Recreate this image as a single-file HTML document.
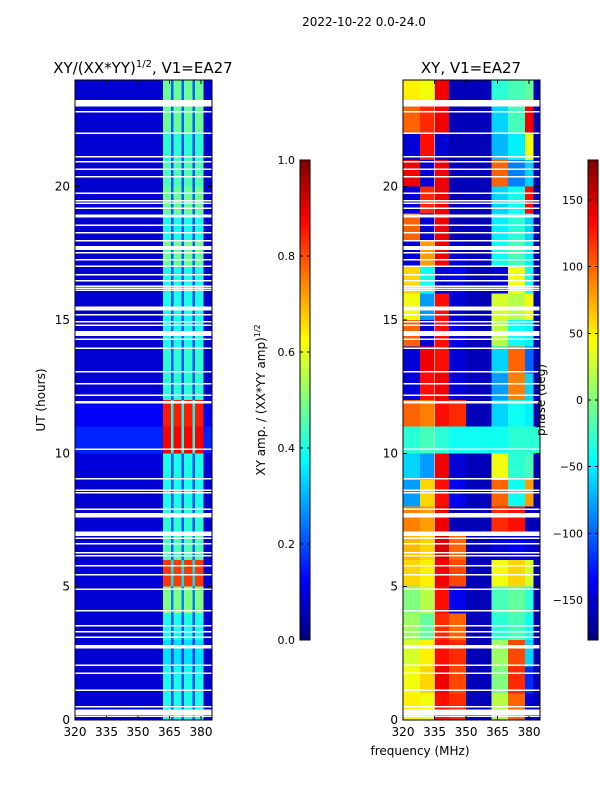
<!DOCTYPE html>
<html><head><meta charset="utf-8">
<style>
body{margin:0;background:#fff;font-family:"Liberation Sans","DejaVu Sans",sans-serif;}
svg text{font-family:"DejaVu Sans","Liberation Sans",sans-serif;}
</style></head>
<body>
<svg id="fig" width="600" height="800" viewBox="0 0 600 800" xmlns="http://www.w3.org/2000/svg" shape-rendering="crispEdges">
<rect width="600" height="800" fill="#fff"/>
<text x="364" y="26" font-size="12" text-anchor="middle">2022-10-22 0.0-24.0</text>
<text x="143" y="73" font-size="15" text-anchor="middle">XY/(XX*YY)<tspan font-size="10" dy="-6">1/2</tspan><tspan dy="6">, V1=EA27</tspan></text>
<text x="471" y="73" font-size="15" text-anchor="middle">XY, V1=EA27</text>
<g id="left"></g>
<g id="right"></g>
<g id="axes"></g>
<text transform="translate(45,400) rotate(-90)" font-size="12" text-anchor="middle">UT (hours)</text>
<text x="420" y="755" font-size="12" text-anchor="middle">frequency (MHz)</text>
<text transform="translate(265,400) rotate(-90)" font-size="12" text-anchor="middle">XY amp. / (XX*YY amp)<tspan font-size="8" dy="-5">1/2</tspan></text>
<text transform="translate(545,400) rotate(-90)" font-size="12" text-anchor="middle">phase (deg)</text>
</svg>
<script>
// ---- data ----
const hours = [0,1,2,3,4,5,6,7,8,9,10,11,12,13,14,15,16,17,18,19,20,21,22,23];
const ampCols = [320,345,361.8,365.7,366.8,370.8,371.9,376,377.1,381.1,385.2];
const ampLow    = [0.08,0.08,0.08,0.08,0.08,0.09,0.08,0.08,0.08,0.09,0.16,0.12,0.08,0.08,0.08,0.08,0.08,0.08,0.08,0.08,0.08,0.08,0.08,0.08];
const ampBright = [0.4,0.4,0.35,0.4,0.5,0.82,0.45,0.42,0.4,0.4,0.88,0.85,0.42,0.42,0.4,0.4,0.4,0.48,0.4,0.48,0.45,0.42,0.48,0.48];
const ampDim    = [0.2,0.2,0.18,0.2,0.25,0.35,0.22,0.2,0.2,0.2,0.4,0.38,0.2,0.2,0.2,0.2,0.2,0.22,0.2,0.22,0.2,0.2,0.22,0.22];
const phaseCols = [320,328,335,342,350,362,370,378,382,385.2];
const phase = [
 [50,40,130,120,-160,20,100,-150,-160],
 [40,60,140,110,-160,0,120,-120,-160],
 [30,50,130,120,-160,10,110,-60,-160],
 [10,-10,120,100,-160,-30,-20,-40,-160],
 [0,20,130,-140,-160,-20,-10,-30,-160],
 [60,50,140,110,-160,40,60,30,-160],
 [70,60,150,100,-160,-150,-140,-150,-160],
 [90,80,140,-160,-160,120,130,-160,-160],
 [-80,60,130,-140,-160,100,-40,80,-160],
 [-60,-80,140,-150,-160,40,-30,-20,-160],
 [-30,-20,-30,-40,-40,-40,-30,-30,-30],
 [100,90,130,120,-160,-60,-40,-50,-160],
 [-150,130,140,-150,-160,-80,90,-60,-160],
 [-150,140,130,-150,-160,-60,100,-100,-160],
 [100,-150,130,-140,-160,20,-40,-50,-160],
 [40,-80,130,-150,-160,30,20,40,-160],
 [60,-40,-150,-140,-160,-150,40,-40,-160],
 [-150,80,140,-150,-160,-40,-20,-50,-160],
 [100,-150,140,-160,-160,-50,-30,-60,-160],
 [-150,120,140,-160,-160,-60,-40,130,-160],
 [140,-150,140,-160,-160,100,-90,-60,-160],
 [-150,130,-150,-160,-160,-70,-50,40,-160],
 [100,120,140,-160,-160,-60,-20,140,-160],
 [50,40,140,-160,-160,-30,-20,-10,-160]
];
const gaps = [[0.12,0.17],[0.19,0.4],[0.48,0.53],[1.1,1.15],[1.73,1.78],[2.04,2.09],[2.69,2.81],[3.08,3.13],[3.29,3.34],[3.51,3.56],[4.08,4.13],[4.88,4.93],[5.42,5.47],[5.77,5.82],[6.13,6.18],[6.25,6.3],[6.58,6.63],[6.79,6.84],[6.9,7.06],[7.6,7.77],[7.88,7.93],[8.5,8.55],[8.6,8.65],[9.02,9.07],[10.13,10.18],[11.87,11.97],[12.15,12.2],[12.58,12.63],[13.04,13.09],[13.92,13.97],[14.25,14.3],[14.4,14.59],[14.79,14.84],[14.91,14.96],[15.17,15.22],[15.35,15.5],[16.1,16.15],[16.18,16.22],[16.25,16.3],[16.45,16.5],[16.67,16.72],[17.0,17.05],[17.23,17.28],[17.5,17.55],[17.62,17.78],[17.95,18.0],[18.25,18.3],[18.54,18.59],[18.86,18.9],[18.92,18.96],[19.17,19.22],[19.35,19.4],[19.45,19.5],[19.73,19.78],[20.35,20.4],[20.63,20.68],[20.91,20.96],[21.1,21.15],[21.98,22.03],[22.78,22.83],[23.0,23.25]];
const ampTicks = [0,0.2,0.4,0.6,0.8,1.0];
const phaseTicks = [-150,-100,-50,0,50,100,150];
const xTicks = [320,335,350,365,380];
const yTicks = [0,5,10,15,20];
// ---- scales ----
const NS="http://www.w3.org/2000/svg";
const Y0=720, PXH=640/24;
const yS = t => Y0 - t*PXH;
const xL = f => 75 + (f-320)*2.1;
const xR = f => 403 + (f-320)*(137/65.2);
function jet(v){v=Math.max(0,Math.min(1,v));
 const r=Math.max(0,Math.min(1,1.5-Math.abs(4*v-3))),g=Math.max(0,Math.min(1,1.5-Math.abs(4*v-2))),b=Math.max(0,Math.min(1,1.5-Math.abs(4*v-1)));
 return `rgb(${Math.round(r*255)},${Math.round(g*255)},${Math.round(b*255)})`;}
function mk(tag,attrs,parent){const e=document.createElementNS(NS,tag);for(const k in attrs)e.setAttribute(k,attrs[k]);parent.appendChild(e);return e;}
const L=document.getElementById('left'),R=document.getElementById('right'),A=document.getElementById('axes');
// left heatmap
hours.forEach((h,i)=>{
 for(let c=0;c<ampCols.length-1;c++){
  let v = c<2 ? ampLow[i] : ((c%2===0)?ampBright[i]:ampDim[i]);
  if(c===9) v=ampLow[i];
  const r=mk('rect',{x:xL(ampCols[c]),y:yS(h+1),width:xL(ampCols[c+1])-xL(ampCols[c]),height:PXH,fill:jet(v)},L);
  
  
 }
});
// right heatmap
hours.forEach((h,i)=>{
 for(let c=0;c<phaseCols.length-1;c++){
  const r=mk('rect',{x:xR(phaseCols[c]),y:yS(h+1),width:xR(phaseCols[c+1])-xR(phaseCols[c]),height:PXH,fill:jet((phase[i][c]+180)/360)},R);
  
  
 }
});
mk('rect',{x:xR(335)-0.5,y:80,width:1,height:640,fill:'#ddd','opacity':0.7},R);
// gaps
gaps.forEach(g=>{
 [[75,137],[403,137]].forEach(([x0,w])=>{
  const r=mk('rect',{x:x0,y:yS(g[1]),width:w,height:Math.max(1.5,(g[1]-g[0])*PXH),fill:'#fff'},A);
  
  
 });
});
// axes frames & ticks
[[75,xL],[403,xR]].forEach(([x0,xs],p)=>{
 const f=mk('rect',{x:x0,y:80,width:137,height:640,fill:'none',stroke:'#000','stroke-width':1},A);
 
 
 xTicks.forEach(t=>{
  mk('line',{x1:xs(t),x2:xs(t),y1:720,y2:716,stroke:'#000'},A);
  mk('line',{x1:xs(t),x2:xs(t),y1:80,y2:84,stroke:'#000'},A);
  const tx=mk('text',{x:xs(t),y:736,'font-size':12,'text-anchor':'middle'},A);tx.textContent=t;
  
  
 });
 yTicks.forEach(t=>{
  mk('line',{x1:x0,x2:x0+4,y1:yS(t),y2:yS(t),stroke:'#000'},A);
  mk('line',{x1:x0+137,x2:x0+133,y1:yS(t),y2:yS(t),stroke:'#000'},A);
  const tx=mk('text',{x:x0-5,y:yS(t)+4,'font-size':12,'text-anchor':'end'},A);tx.textContent=t;
  
  
 });
});
// colorbars
function cbar(x,vals,lo,hi,fmt,name){
 const g=mk('g',{},A);
 
 
 for(let k=0;k<120;k++){mk('rect',{x:x,y:640-(k+1)*4,width:10,height:4.3,fill:jet((k+0.5)/120)},g);}
 mk('rect',{x:x,y:160,width:10,height:480,fill:'none',stroke:'#000'},g);
 vals.forEach(v=>{const y=640-(v-lo)/(hi-lo)*480;
  mk('line',{x1:x,x2:x+3,y1:y,y2:y,stroke:'#000'},g);mk('line',{x1:x+10,x2:x+7,y1:y,y2:y,stroke:'#000'},g);
  const t=mk('text',{x:x-5,y:y+4,'font-size':11,'text-anchor':'end'},g);t.textContent=fmt(v);
  
  
 });
}
cbar(300,ampTicks,0,1,v=>v.toFixed(1),'amp-colorbar');
cbar(588,phaseTicks,-180,180,v=>v<0?'\u2212'+(-v):String(v),'phase-colorbar');
</script>
</body></html>
